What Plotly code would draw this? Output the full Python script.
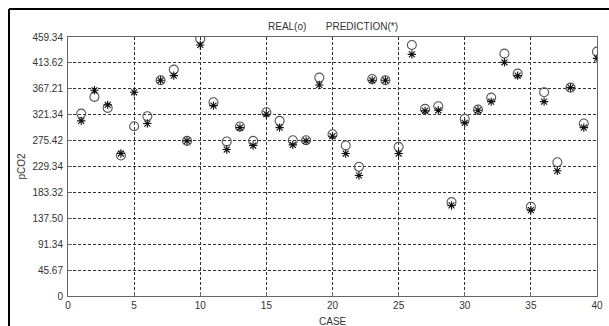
import plotly.graph_objects as go

cases = list(range(1, 41))
real = [323.5, 353.1, 333.6, 249.1, 301.1, 318.8, 382.6, 401.5, 275.1, 455.8,
        343.6, 273.9, 300.5, 275.1, 325.9, 310.6, 276.3, 276.3, 387.3, 286.9,
        266.9, 229.1, 384.9, 382.6, 264.5, 445.2, 331.8, 336.5, 166.5, 314.1,
        330.6, 351.9, 429.8, 394.4, 158.2, 361.3, 237.3, 369.6, 305.8, 433.4]
prediction = [310.6, 364.9, 338.9, 252.7, 361.3, 305.8, 382.6, 390.8, 275.1, 445.2,
              337.7, 259.8, 298.7, 266.9, 322.4, 298.7, 268.0, 275.1, 374.3, 283.4,
              252.7, 213.7, 382.6, 382.6, 252.7, 428.6, 328.3, 329.4, 160.6, 307.0,
              329.4, 344.8, 414.5, 390.8, 152.3, 344.8, 222.0, 369.6, 298.7, 421.5]
y_ticks = [0, 45.67, 91.34, 137.50, 183.32, 229.34, 275.42, 321.34, 367.21, 413.62, 459.34]
y_tick_labels = ["0", "45.67", "91.34", "137.50", "183.32", "229.34", "275.42",
                 "321.34", "367.21", "413.62", "459.34"]
x_ticks = [0, 5, 10, 15, 20, 25, 30, 35, 40]

W, H = 609, 326
L, R, T, B = 68, 12, 37, 30
pw, ph = W - L - R, H - T - B
FONT = dict(family="Liberation Sans", size=10, color="#333333")

fig = go.Figure()
fig.add_trace(go.Scatter(x=cases, y=real, mode="markers", name="REAL",
                         marker=dict(symbol="circle-open", size=9, color="#555555",
                                     line=dict(width=1.1, color="#555555"))))
fig.add_trace(go.Scatter(x=cases, y=prediction, mode="markers", name="PREDICTION",
                         marker=dict(symbol="asterisk-open", size=7, color="#111111",
                                     line=dict(width=1.1, color="#111111"))))

axis_common = dict(showline=True, linecolor="#666666", linewidth=1, mirror=True,
                   showgrid=True, gridcolor="#333333", griddash="3px,2px", gridwidth=1,
                   zeroline=False, ticks="inside", ticklen=4, tickcolor="#666666",
                   tickfont=FONT, automargin=False)

fig.update_xaxes(range=[0, 40], tickvals=x_ticks, **axis_common)
fig.update_yaxes(range=[0, 459.34], tickvals=y_ticks, ticktext=y_tick_labels,
                 ticklabelstandoff=2,
                 title=dict(text="pCO2", standoff=4, font=FONT), **axis_common)

# x-axis title
fig.add_annotation(xref="paper", yref="paper", x=0.5, y=(H - B - 321) / ph,
                   text="CASE", showarrow=False, yanchor="middle", font=FONT)

# outer frame (left and top edges)
x0 = (9 - L) / pw
y1 = (H - B - 9) / ph
fig.add_shape(type="line", xref="paper", yref="paper", x0=x0, x1=x0, y0=-0.2, y1=y1,
              line=dict(color="black", width=2))
fig.add_shape(type="line", xref="paper", yref="paper", x0=x0, x1=1.1, y0=y1, y1=y1,
              line=dict(color="black", width=2))

fig.add_annotation(xref="paper", yref="paper", x=0.5, y=(H - B - 26) / ph,
                   text="REAL(o)&nbsp;&nbsp;&nbsp;&nbsp;&nbsp;&nbsp;&nbsp;PREDICTION(*)",
                   showarrow=False, yanchor="middle", font=FONT)

fig.update_layout(width=W, height=H, margin=dict(l=L, r=R, t=T, b=B),
                  paper_bgcolor="white", plot_bgcolor="white", showlegend=False)

fig.write_html("out.html", config={"displayModeBar": False},
               post_script="document.body.style.margin='0';document.body.style.overflow='hidden';")
